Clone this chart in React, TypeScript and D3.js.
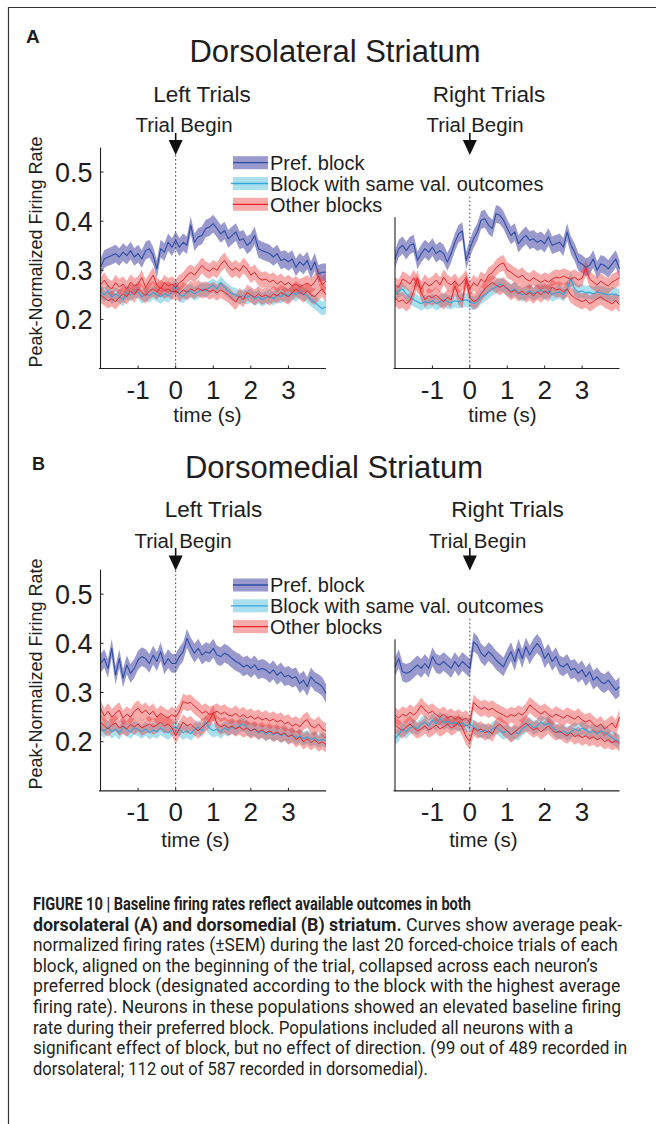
import React, { useLayoutEffect, useRef, useState } from 'react';
import * as d3 from 'd3';

// ---------- data (peak-normalized firing rate, 100 ms bins from -2 s to 4 s) ----------
const TIME_START = -2;
const TIME_STEP = 0.1;

const DL_LEFT_PREF = [0.306,0.323,0.327,0.330,0.334,0.327,0.337,0.330,0.340,0.327,0.334,0.323,0.340,0.344,0.330,0.303,0.344,0.337,0.357,0.347,0.361,0.347,0.357,0.351,0.392,0.357,0.368,0.371,0.385,0.388,0.395,0.385,0.374,0.381,0.364,0.371,0.378,0.361,0.364,0.351,0.357,0.371,0.344,0.340,0.337,0.334,0.327,0.334,0.320,0.323,0.317,0.323,0.306,0.317,0.310,0.320,0.300,0.317,0.293,0.296,0.296];
const DL_LEFT_SAME = [0.256,0.250,0.258,0.245,0.252,0.247,0.240,0.255,0.250,0.258,0.256,0.246,0.252,0.248,0.255,0.250,0.246,0.252,0.248,0.255,0.270,0.250,0.247,0.255,0.258,0.252,0.256,0.262,0.258,0.265,0.270,0.262,0.275,0.265,0.258,0.252,0.250,0.245,0.248,0.244,0.250,0.242,0.246,0.240,0.244,0.248,0.242,0.250,0.246,0.252,0.248,0.255,0.250,0.258,0.252,0.248,0.240,0.235,0.228,0.222,0.225];
const DL_LEFT_OTHER1 = [0.270,0.280,0.268,0.262,0.275,0.266,0.272,0.262,0.276,0.268,0.272,0.285,0.265,0.278,0.290,0.270,0.262,0.275,0.268,0.272,0.265,0.275,0.280,0.290,0.296,0.290,0.300,0.310,0.302,0.298,0.305,0.300,0.312,0.320,0.308,0.300,0.305,0.298,0.310,0.302,0.290,0.296,0.285,0.280,0.282,0.276,0.280,0.272,0.278,0.270,0.275,0.268,0.272,0.266,0.270,0.274,0.268,0.276,0.288,0.270,0.278];
const DL_LEFT_OTHER2 = [0.250,0.244,0.238,0.242,0.236,0.245,0.252,0.246,0.258,0.250,0.262,0.255,0.248,0.258,0.262,0.256,0.265,0.258,0.262,0.256,0.258,0.252,0.260,0.255,0.262,0.258,0.264,0.258,0.262,0.256,0.260,0.254,0.260,0.255,0.250,0.242,0.235,0.248,0.240,0.255,0.250,0.245,0.252,0.246,0.250,0.244,0.252,0.248,0.255,0.250,0.246,0.254,0.262,0.256,0.250,0.258,0.250,0.246,0.255,0.262,0.250];

const DL_RIGHT_PREF = [0.323,0.344,0.351,0.340,0.351,0.354,0.320,0.334,0.344,0.337,0.347,0.334,0.340,0.334,0.317,0.334,0.357,0.374,0.380,0.320,0.344,0.364,0.378,0.402,0.405,0.392,0.385,0.415,0.412,0.402,0.385,0.371,0.378,0.354,0.364,0.371,0.361,0.364,0.357,0.361,0.354,0.368,0.351,0.354,0.357,0.347,0.378,0.351,0.337,0.317,0.313,0.306,0.310,0.323,0.300,0.313,0.310,0.303,0.313,0.323,0.303];
const DL_RIGHT_SAME = [0.250,0.258,0.262,0.252,0.245,0.240,0.236,0.232,0.236,0.234,0.238,0.232,0.236,0.240,0.236,0.234,0.238,0.236,0.238,0.240,0.236,0.232,0.236,0.245,0.250,0.256,0.262,0.266,0.272,0.268,0.262,0.258,0.262,0.255,0.250,0.254,0.258,0.252,0.256,0.260,0.254,0.258,0.250,0.254,0.256,0.250,0.262,0.283,0.262,0.256,0.258,0.254,0.255,0.252,0.256,0.254,0.252,0.250,0.252,0.250,0.248];
const DL_RIGHT_OTHER1 = [0.270,0.265,0.282,0.278,0.272,0.285,0.270,0.262,0.276,0.268,0.272,0.280,0.270,0.286,0.275,0.270,0.278,0.268,0.275,0.285,0.262,0.275,0.268,0.282,0.276,0.290,0.295,0.305,0.312,0.315,0.300,0.296,0.290,0.285,0.290,0.282,0.278,0.285,0.280,0.275,0.280,0.276,0.282,0.286,0.284,0.288,0.285,0.282,0.286,0.280,0.284,0.305,0.282,0.276,0.270,0.278,0.272,0.268,0.276,0.280,0.285];
const DL_RIGHT_OTHER2 = [0.245,0.236,0.240,0.232,0.238,0.258,0.285,0.255,0.240,0.248,0.244,0.250,0.242,0.236,0.245,0.240,0.268,0.246,0.238,0.280,0.245,0.236,0.240,0.252,0.262,0.270,0.275,0.270,0.265,0.270,0.262,0.255,0.260,0.252,0.258,0.250,0.255,0.248,0.256,0.250,0.258,0.252,0.266,0.260,0.262,0.256,0.262,0.250,0.244,0.240,0.236,0.240,0.232,0.236,0.242,0.246,0.240,0.236,0.232,0.238,0.230];

const DM_LEFT_PREF = [0.359,0.369,0.349,0.390,0.335,0.369,0.329,0.356,0.339,0.349,0.366,0.373,0.369,0.359,0.376,0.363,0.383,0.356,0.369,0.359,0.359,0.373,0.383,0.410,0.393,0.380,0.390,0.376,0.383,0.380,0.390,0.376,0.373,0.380,0.376,0.369,0.363,0.359,0.352,0.356,0.349,0.356,0.346,0.349,0.346,0.339,0.346,0.335,0.342,0.332,0.335,0.329,0.332,0.318,0.325,0.312,0.332,0.322,0.318,0.312,0.298];
const DM_LEFT_SAME = [0.227,0.222,0.230,0.220,0.226,0.218,0.230,0.225,0.220,0.228,0.225,0.220,0.226,0.218,0.224,0.220,0.228,0.222,0.218,0.225,0.230,0.224,0.218,0.222,0.216,0.224,0.230,0.222,0.240,0.228,0.222,0.226,0.220,0.228,0.224,0.230,0.226,0.232,0.236,0.228,0.222,0.226,0.218,0.222,0.215,0.220,0.214,0.218,0.212,0.216,0.210,0.214,0.208,0.212,0.206,0.210,0.204,0.208,0.202,0.205,0.202];
const DM_LEFT_OTHER1 = [0.268,0.252,0.262,0.250,0.258,0.264,0.248,0.256,0.250,0.262,0.268,0.258,0.264,0.255,0.262,0.250,0.258,0.252,0.248,0.255,0.250,0.262,0.282,0.278,0.280,0.272,0.266,0.258,0.262,0.255,0.258,0.262,0.256,0.260,0.254,0.252,0.258,0.250,0.255,0.248,0.252,0.246,0.250,0.244,0.248,0.242,0.246,0.240,0.244,0.236,0.240,0.232,0.236,0.230,0.240,0.245,0.232,0.228,0.236,0.226,0.222];
const DM_LEFT_OTHER2 = [0.240,0.232,0.226,0.234,0.238,0.228,0.232,0.226,0.235,0.230,0.236,0.228,0.232,0.236,0.230,0.234,0.240,0.232,0.236,0.228,0.212,0.226,0.240,0.232,0.236,0.228,0.222,0.230,0.236,0.244,0.258,0.236,0.230,0.234,0.228,0.232,0.226,0.230,0.224,0.228,0.222,0.226,0.220,0.224,0.218,0.222,0.216,0.220,0.214,0.218,0.210,0.214,0.204,0.210,0.200,0.206,0.198,0.204,0.196,0.200,0.194];

const DM_RIGHT_PREF = [0.352,0.369,0.342,0.339,0.342,0.349,0.356,0.349,0.359,0.349,0.373,0.359,0.356,0.363,0.356,0.349,0.363,0.352,0.363,0.356,0.349,0.403,0.396,0.380,0.373,0.383,0.376,0.366,0.359,0.352,0.369,0.383,0.363,0.390,0.369,0.393,0.376,0.390,0.400,0.390,0.369,0.380,0.363,0.373,0.356,0.352,0.359,0.346,0.349,0.339,0.346,0.332,0.342,0.325,0.332,0.322,0.318,0.325,0.315,0.305,0.312];
const DM_RIGHT_SAME = [0.207,0.215,0.226,0.220,0.228,0.232,0.226,0.236,0.240,0.232,0.244,0.236,0.248,0.238,0.242,0.236,0.240,0.234,0.238,0.232,0.236,0.230,0.226,0.220,0.224,0.218,0.226,0.230,0.224,0.218,0.222,0.214,0.220,0.216,0.226,0.232,0.236,0.228,0.232,0.240,0.234,0.238,0.230,0.222,0.218,0.222,0.216,0.220,0.226,0.222,0.228,0.224,0.218,0.222,0.216,0.222,0.218,0.214,0.208,0.204,0.200];
const DM_RIGHT_OTHER1 = [0.254,0.248,0.256,0.252,0.260,0.254,0.262,0.274,0.264,0.258,0.262,0.255,0.250,0.256,0.248,0.252,0.246,0.250,0.244,0.248,0.238,0.280,0.272,0.266,0.270,0.264,0.268,0.262,0.258,0.254,0.250,0.255,0.252,0.258,0.254,0.262,0.275,0.268,0.262,0.256,0.262,0.255,0.250,0.256,0.252,0.248,0.254,0.250,0.246,0.252,0.244,0.240,0.244,0.236,0.230,0.236,0.226,0.232,0.238,0.228,0.250];
const DM_RIGHT_OTHER2 = [0.234,0.228,0.222,0.230,0.236,0.228,0.222,0.226,0.232,0.224,0.228,0.234,0.226,0.230,0.236,0.228,0.232,0.240,0.228,0.210,0.200,0.228,0.222,0.226,0.218,0.222,0.216,0.230,0.236,0.228,0.222,0.214,0.220,0.226,0.232,0.238,0.230,0.224,0.228,0.220,0.226,0.232,0.224,0.218,0.222,0.216,0.212,0.218,0.210,0.214,0.208,0.212,0.206,0.210,0.204,0.208,0.200,0.204,0.198,0.202,0.196];

// SEM half-widths per series: [pref, same, other1, other2]
const DL_SEM = [0.018, 0.014, 0.016, 0.016];
const DM_SEM = [0.019, 0.014, 0.016, 0.016];

const X_TICKS = [-1, 0, 1, 2, 3];
const Y_TICKS = [0.2, 0.3, 0.4, 0.5];
const X_DOMAIN = [-2, 4];
const Y_DOMAIN = [0.1, 0.55];
const LEGEND_LABELS = ['Pref. block', 'Block with same val. outcomes', 'Other blocks'];

const CAPTION_LINES = [
  { bold: 'FIGURE 10 | Baseline firing rates reflect available outcomes in both', rest: '', w: 438 },
  { bold: 'dorsolateral (A) and dorsomedial (B) striatum.', rest: ' Curves show average peak-', w: 589 },
  { bold: '', rest: 'normalized firing rates (\u00B1SEM) during the last 20 forced-choice trials of each', w: 585 },
  { bold: '', rest: 'block, aligned on the beginning of the trial, collapsed across each neuron\u2019s', w: 565 },
  { bold: '', rest: 'preferred block (designated according to the block with the highest average', w: 587 },
  { bold: '', rest: 'firing rate). Neurons in these populations showed an elevated baseline firing', w: 588 },
  { bold: '', rest: 'rate during their preferred block. Populations included all neurons with a', w: 540 },
  { bold: '', rest: 'significant effect of block, but no effect of direction. (99 out of 489 recorded in', w: 594 },
  { bold: '', rest: 'dorsolateral; 112 out of 587 recorded in dorsomedial).', w: 395 },
];

const TIME = DL_LEFT_PREF.map((_, i) => +(TIME_START + i * TIME_STEP).toFixed(2));

// ---------- styles ----------
const FONT = '"Liberation Sans", Arial, Helvetica, sans-serif';
const CAPTION_FONT = 'Roboto, "Liberation Sans", Arial, sans-serif';
const INK = '#1e1e1e';
const STYLES = [
  { line: '#2d4ea4', fill: '#4646a6', op: 0.55, lw: 1.1 },
  { line: '#37a4dc', fill: '#5cc2de', op: 0.52, lw: 1.1 },
  { line: '#e8252b', fill: '#ee3636', op: 0.42, lw: 1 },
  { line: '#e8252b', fill: '#ee3636', op: 0.42, lw: 1 },
];

type PanelCfg = {
  series: number[][];
  sem: number[];
  xr: [number, number];
  yr: [number, number];
  yLabels: boolean;
  axisTop: number;
  dotTop: number | null;
  title: string;
  titleX: number;
  titleY: number;
  beginX: number;
  beginY: number;
  arrowTop: number;
  arrowTip: number;
  timeX: number;
  timeY: number;
  legendY: number | null;
  ylabelY: number;
};

const PANELS: PanelCfg[] = [
  {
    series: [DL_LEFT_PREF, DL_LEFT_SAME, DL_LEFT_OTHER1, DL_LEFT_OTHER2], sem: DL_SEM,
    xr: [100.5, 326], yr: [368.5, 147.5], yLabels: true, axisTop: 0.55, dotTop: null,
    title: 'Left Trials', titleX: 202, titleY: 102, beginX: 184, beginY: 132, arrowTop: 133, arrowTip: 155,
    timeX: 207.5, timeY: 422, legendY: 162.7, ylabelY: 252,
  },
  {
    series: [DL_RIGHT_PREF, DL_RIGHT_SAME, DL_RIGHT_OTHER1, DL_RIGHT_OTHER2], sem: DL_SEM,
    xr: [395, 619.5], yr: [368.5, 147.5], yLabels: false, axisTop: 0.408, dotTop: 0.45,
    title: 'Right Trials', titleX: 489, titleY: 102, beginX: 475, beginY: 132, arrowTop: 133, arrowTip: 155,
    timeX: 502.5, timeY: 422, legendY: null, ylabelY: 0,
  },
  {
    series: [DM_LEFT_PREF, DM_LEFT_SAME, DM_LEFT_OTHER1, DM_LEFT_OTHER2], sem: DM_SEM,
    xr: [100.5, 326], yr: [790.9, 569.5], yLabels: true, axisTop: 0.55, dotTop: null,
    title: 'Left Trials', titleX: 213.5, titleY: 517, beginX: 183, beginY: 547.5, arrowTop: 548, arrowTip: 570.5,
    timeX: 195.5, timeY: 847, legendY: 585, ylabelY: 674,
  },
  {
    series: [DM_RIGHT_PREF, DM_RIGHT_SAME, DM_RIGHT_OTHER1, DM_RIGHT_OTHER2], sem: DM_SEM,
    xr: [395, 619.5], yr: [790.9, 569.5], yLabels: false, axisTop: 0.408, dotTop: 0.45,
    title: 'Right Trials', titleX: 507.5, titleY: 517, beginX: 477.7, beginY: 547.5, arrowTop: 548, arrowTip: 570.5,
    timeX: 483.3, timeY: 847, legendY: null, ylabelY: 0,
  },
];

function Panel({ p }: { p: PanelCfg }) {
  const x = d3.scaleLinear().domain(X_DOMAIN).range(p.xr);
  const y = d3.scaleLinear().domain(Y_DOMAIN).range(p.yr);
  const area = (vals: number[], sem: number) =>
    d3.area<number>().x((_, i) => x(TIME[i])).y0((d) => y(d - sem)).y1((d) => y(d + sem))(vals) || '';
  const line = (vals: number[]) => d3.line<number>().x((_, i) => x(TIME[i])).y((d) => y(d))(vals) || '';
  const x0 = x(0);
  const yBottom = y(Y_DOMAIN[0]);
  const xLeft = p.xr[0];
  const dotStart = p.dotTop === null ? p.arrowTip : y(p.dotTop);
  const lineOrder = [1, 2, 3, 0];
  return (
    <g>
      {p.series.map((s, k) => (
        <path key={'b' + k} d={area(s, p.sem[k])} fill={STYLES[k].fill} fillOpacity={STYLES[k].op} stroke="none" />
      ))}
      {lineOrder.map((k) => (
        <path key={'l' + k} d={line(p.series[k])} fill="none" stroke={STYLES[k].line} strokeWidth={STYLES[k].lw} strokeLinejoin="round" />
      ))}
      <line x1={x0} x2={x0} y1={dotStart} y2={yBottom} stroke="#444" strokeWidth={1} strokeDasharray="1.6,2.4" />
      <line x1={xLeft - 1.5} x2={p.xr[1]} y1={yBottom} y2={yBottom} stroke="#222" strokeWidth={1.1} />
      <line x1={xLeft} x2={xLeft} y1={y(p.axisTop)} y2={yBottom} stroke="#222" strokeWidth={1.1} />
      {X_TICKS.map((t) => (
        <g key={'xt' + t}>
          <line x1={x(t)} x2={x(t)} y1={yBottom} y2={yBottom - 3} stroke="#222" strokeWidth={1} />
          <text x={x(t)} y={yBottom + 30} textAnchor="middle" fontSize={26} fontFamily={FONT} fill={INK}>
            {t}
          </text>
        </g>
      ))}
      {p.yLabels &&
        Y_TICKS.map((v) => (
          <g key={'yt' + v}>
            <line x1={xLeft} x2={xLeft + 3} y1={y(v)} y2={y(v)} stroke="#222" strokeWidth={1} />
            <text x={xLeft - 8} y={y(v)} dy="0.36em" textAnchor="end" fontSize={27} fontFamily={FONT} fill={INK}>
              {v.toFixed(1)}
            </text>
          </g>
        ))}
      {p.yLabels && (
        <text
          transform={`translate(42,${p.ylabelY}) rotate(-90)`}
          textAnchor="middle"
          fontSize={18}
          fontFamily={FONT}
          fill={INK}
        >
          Peak-Normalized Firing Rate
        </text>
      )}
      <text x={p.timeX} y={p.timeY} textAnchor="middle" fontSize={20.5} fontFamily={FONT} fill={INK}>
        time (s)
      </text>
      <text x={p.titleX} y={p.titleY} textAnchor="middle" fontSize={22.5} fontFamily={FONT} fill={INK}>
        {p.title}
      </text>
      <text x={p.beginX} y={p.beginY} textAnchor="middle" fontSize={20.5} fontFamily={FONT} fill={INK}>
        Trial Begin
      </text>
      <line x1={x0} x2={x0} y1={p.arrowTop} y2={p.arrowTip - 12} stroke="#111" strokeWidth={1.6} />
      <path
        d={`M${x0 - 7},${p.arrowTip - 15} L${x0 + 7},${p.arrowTip - 15} L${x0},${p.arrowTip} Z`}
        fill="#111"
      />
      {p.legendY !== null &&
        LEGEND_LABELS.map((lab, k) => {
          const cy = (p.legendY as number) + k * 20.8;
          const st = STYLES[k];
          return (
            <g key={'lg' + k}>
              <rect x={233} y={cy - 6.5} width={35} height={13} fill={st.fill} fillOpacity={st.op} />
              <line x1={k === 1 ? 231 : 233} x2={268} y1={cy} y2={cy} stroke={st.line} strokeWidth={1.3} />
              <text x={270} y={cy + 7.2} fontSize={20} fontFamily={FONT} fill={INK}>
                {lab}
              </text>
            </g>
          );
        })}
    </g>
  );
}

function CaptionLine({ c, i }: { c: { bold: string; rest: string; w: number }; i: number }) {
  const ref = useRef<SVGTextElement>(null);
  const [sx, setSx] = useState(0.85);
  useLayoutEffect(() => {
    const el = ref.current;
    if (el) {
      const w = el.getComputedTextLength();
      if (w > 0) setSx(c.w / w);
    }
  }, [c.w]);
  return (
    <text
      ref={ref}
      transform={`translate(33,${910 + i * 20.6}) scale(${sx},1)`}
      fontSize={18.5}
      fontFamily={CAPTION_FONT}
      fill="#231f20"
    >
      {c.bold && <tspan fontWeight="bold">{c.bold}</tspan>}
      {c.rest && <tspan>{c.rest}</tspan>}
    </text>
  );
}

export default function App() {
  const W = 656;
  const H = 1124;
  return (
    <div style={{ position: 'absolute', left: 0, top: 0 }}>
      <svg width={W} height={H} viewBox={`0 0 ${W} ${H}`} style={{ display: 'block', background: '#fff' }}>
        <rect x={0} y={0} width={W} height={H} fill="#fff" />
        <line x1={8} x2={W} y1={7.5} y2={7.5} stroke="#333" strokeWidth={1.2} />
        <line x1={8.5} x2={8.5} y1={7} y2={H} stroke="#333" strokeWidth={1.2} />
        <text x={26} y={43} fontSize={19} fontWeight="bold" fontFamily={FONT} fill={INK}>A</text>
        <text x={32} y={470} fontSize={18} fontWeight="bold" fontFamily={FONT} fill={INK}>B</text>
        <text x={335} y={62} textAnchor="middle" fontSize={31} fontFamily={FONT} fill={INK}>
          Dorsolateral Striatum
        </text>
        <text x={334} y={478} textAnchor="middle" fontSize={31} fontFamily={FONT} fill={INK}>
          Dorsomedial Striatum
        </text>
        {PANELS.map((p, i) => (
          <Panel key={i} p={p} />
        ))}
        {CAPTION_LINES.map((c, i) => (
          <CaptionLine key={'cap' + i} c={c} i={i} />
        ))}
      </svg>
    </div>
  );
}
